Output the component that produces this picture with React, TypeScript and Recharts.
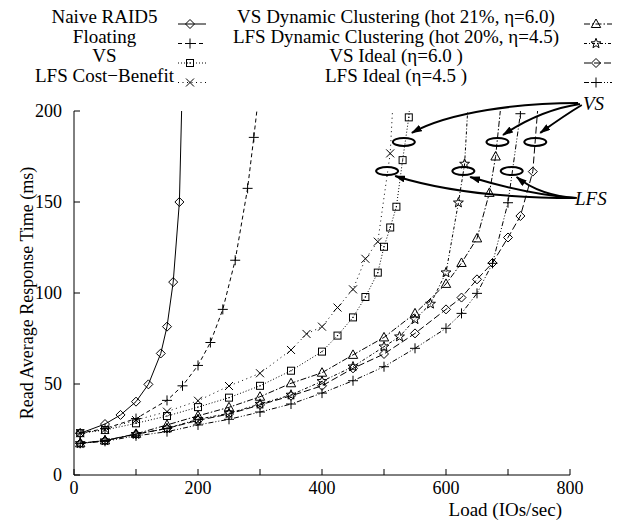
import React from "react";
import { LineChart, Line, XAxis, YAxis, ReferenceDot, Customized } from "recharts";

const FONT = "'Liberation Serif', 'Times New Roman', serif";

// chart frame (px)
const W = 622;
const H = 524;
const PLOT = { left: 74, top: 111, right: 570, bottom: 475 };
const X_MAX = 800;
const Y_MAX = 200;

const xTicks = [0, 100, 200, 300, 400, 500, 600, 700, 800];
const yTicks = [0, 50, 100, 150, 200];

// series (load in IOs/sec, response time in ms)
const naiveX = [10, 50, 75, 100, 120, 140, 150, 160, 170, 175];
const naiveY = [22.9, 28, 33, 40.3, 49.8, 66.8, 81.5, 106, 150, 220];

const floatingX = [10, 50, 100, 150, 175, 200, 220, 240, 260, 280, 290, 300];
const floatingY = [23, 25.5, 31, 41, 49, 60.2, 72.8, 91, 118, 157.5, 185.5, 215];

const vsX = [10, 50, 100, 150, 200, 250, 300, 350, 400, 425, 450, 470, 490, 500, 510, 520, 530, 540, 550];
const vsY = [23, 24.7, 28.4, 32.4, 37.3, 42.5, 49, 57.3, 67.8, 76.6, 86.6, 97.8, 111.2, 125.4, 136, 147.4, 173, 196.5, 240];

const lfsCbX = [10, 50, 100, 150, 200, 250, 300, 350, 375, 400, 425, 450, 470, 490, 510, 520];
const lfsCbY = [23, 25, 30.2, 34.8, 40.8, 48.9, 55.9, 68.7, 77.5, 81.5, 92, 102, 118.8, 128.2, 176.7, 240];

const vsDynX = [10, 50, 100, 150, 200, 250, 300, 350, 400, 450, 500, 550, 600, 625, 650, 670, 680, 690];
const vsDynY = [17.4, 19, 22.6, 27.5, 32.5, 37.2, 43, 50.4, 56.2, 66, 75.6, 88.8, 105, 116.5, 130, 155, 175, 208];

const lfsDynX = [10, 50, 100, 150, 200, 250, 300, 350, 400, 450, 500, 525, 550, 575, 600, 620, 630, 640];
const lfsDynY = [17.4, 18.9, 22.4, 25.6, 30.6, 33.9, 39, 44, 51.5, 59.5, 70.5, 76, 85.5, 94, 111.2, 149.6, 170.9, 230];

const vsIdealX = [10, 50, 100, 150, 200, 250, 300, 350, 400, 450, 500, 550, 600, 625, 650, 675, 700, 720, 740, 750];
const vsIdealY = [17.4, 18.9, 22.4, 25.6, 30, 33.5, 38.5, 43.5, 49, 58.6, 66.5, 77.8, 91, 97.5, 107.5, 116.5, 130.5, 142.3, 166.7, 210];

const lfsIdealX = [10, 50, 100, 150, 200, 250, 300, 350, 400, 450, 500, 550, 600, 625, 650, 675, 700, 720, 730];
const lfsIdealY = [17.4, 18.5, 21.5, 23.8, 27.5, 30.6, 34.6, 39, 45, 51.8, 59.5, 69.6, 80.6, 88.8, 99.8, 116.3, 149.6, 198.5, 225];

const zip = (xs: number[], ys: number[]) => xs.map((x, i) => ({ x, y: ys[i] }));

type Marker = "diamond" | "plus" | "square" | "cross" | "triangle" | "star";

const SERIES: { name: string; data: { x: number; y: number }[]; dash?: string; marker: Marker }[] = [
  { name: "Naive RAID5", data: zip(naiveX, naiveY), marker: "diamond" },
  { name: "Floating", data: zip(floatingX, floatingY), dash: "4 3", marker: "plus" },
  { name: "VS", data: zip(vsX, vsY), dash: "1 2", marker: "square" },
  { name: "LFS Cost\u2212Benefit", data: zip(lfsCbX, lfsCbY), dash: "1 3.5", marker: "cross" },
  { name: "VS Dynamic Clustering (hot 21%, \u03b7=6.0)", data: zip(vsDynX, vsDynY), dash: "6 2 1.5 2", marker: "triangle" },
  { name: "LFS Dynamic Clustering (hot 20%, \u03b7=4.5)", data: zip(lfsDynX, lfsDynY), dash: "3 2 1 2", marker: "star" },
  { name: "VS Ideal (\u03b7=6.0 )", data: zip(vsIdealX, vsIdealY), dash: "7 3", marker: "diamond" },
  { name: "LFS Ideal (\u03b7=4.5 )", data: zip(lfsIdealX, lfsIdealY), dash: "5 2 1 2 1 2", marker: "plus" },
];

// annotation ellipses (data units)
const vsRings = [532, 683, 744];
const vsRingY = 183;
const lfsRings = [505, 628, 706];
const lfsRingY = 167;

// annotation arrows (data units): start, control(s), end
const vsArrows = [
  [[813, 204.4], [719, 204.4], [606, 199.5], [545, 188]],
  [[816, 203.8], [752, 200.5], [692, 186.8]],
  [[819, 203.3], [792, 197.8], [752, 188]],
];
const lfsArrows = [
  [[808, 152.2], [687, 152.2], [590, 156.6], [518, 164.3]],
  [[808, 152.2], [735, 153.8], [639, 163.7]],
  [[811, 152.2], [752, 153.3], [714, 163.7]],
];

const px = (x: number) => PLOT.left + (x / X_MAX) * (PLOT.right - PLOT.left);
const py = (y: number) => PLOT.bottom - (y / Y_MAX) * (PLOT.bottom - PLOT.top);

function drawMarker(kind: Marker, cx: number, cy: number, key: React.Key) {
  const st = { stroke: "#000", strokeWidth: 1, fill: "none" };
  if (cx == null || cy == null || isNaN(cx) || isNaN(cy)) return <g key={key} />;
  switch (kind) {
    case "diamond":
      return <path key={key} d={`M${cx},${cy - 4.5}L${cx + 4.5},${cy}L${cx},${cy + 4.5}L${cx - 4.5},${cy}Z`} {...st} />;
    case "plus":
      return <path key={key} d={`M${cx - 5},${cy}H${cx + 5}M${cx},${cy - 5}V${cy + 5}`} {...st} />;
    case "square":
      return (
        <g key={key}>
          <rect x={cx - 3.5} y={cy - 3.5} width={7} height={7} {...st} />
          <rect x={cx - 0.6} y={cy - 0.6} width={1.2} height={1.2} fill="#000" />
        </g>
      );
    case "cross":
      return <path key={key} d={`M${cx - 4},${cy - 4}L${cx + 4},${cy + 4}M${cx - 4},${cy + 4}L${cx + 4},${cy - 4}`} {...st} />;
    case "triangle":
      return <path key={key} d={`M${cx},${cy - 5}L${cx + 4.7},${cy + 3.5}L${cx - 4.7},${cy + 3.5}Z`} {...st} />;
    case "star": {
      const pts: string[] = [];
      for (let i = 0; i < 10; i++) {
        const r = i % 2 === 0 ? 5.2 : 2.2;
        const a = -Math.PI / 2 + (i * Math.PI) / 5;
        pts.push(`${cx + r * Math.cos(a)},${cy + r * Math.sin(a)}`);
      }
      return <polygon key={key} points={pts.join(" ")} {...st} />;
    }
  }
}

const Overlay = () => {
  const rowY = (i: number) => 23 + i * 19.5;
  return (
    <g fontFamily={FONT}>
      <defs>
        <marker id="ah" markerWidth={11} markerHeight={7} refX={10} refY={3.5} orient="auto" markerUnits="userSpaceOnUse">
          <path d="M0,0L11,3.5L0,7Z" fill="#000" />
        </marker>
      </defs>
      {SERIES.map((s, i) => {
        const col = i < 4 ? 0 : 1;
        const row = i % 4;
        const tx = col === 0 ? 104.5 : 396;
        const lx0 = col === 0 ? 178 : 584;
        const lx1 = lx0 + 28;
        const mx = lx0 + 12;
        const y = rowY(row);
        return (
          <g key={s.name}>
            <text x={tx} y={y} fontSize={19} textAnchor="middle" fill="#000">
              {s.name}
            </text>
            <line x1={lx0} x2={lx1} y1={y + 1} y2={y + 1} stroke="#000" strokeWidth={1} strokeDasharray={s.dash} />
            {drawMarker(s.marker, mx, y + 1, "m")}
          </g>
        );
      })}
      {[...vsArrows, ...lfsArrows].map((a, i) => {
        const p = a.map(([x, y]) => `${px(x)},${py(y)}`);
        const d = a.length === 4 ? `M${p[0]}C${p[1]} ${p[2]} ${p[3]}` : `M${p[0]}Q${p[1]} ${p[2]}`;
        return <path key={i} d={d} fill="none" stroke="#000" strokeWidth={2} markerEnd="url(#ah)" />;
      })}
      <text x={px(821)} y={py(200.5)} fontSize={19} fontStyle="italic" fill="#000">VS</text>
      <text x={px(808)} y={py(148.4)} fontSize={19} fontStyle="italic" fill="#000">LFS</text>
      <text
        x={27}
        y={293}
        fontSize={18}
        textAnchor="middle"
        dominantBaseline="central"
        transform="rotate(-90 27 293)"
        fill="#000"
      >
        Read Average Response Time (ms)
      </text>
      <text x={562} y={516} fontSize={19} textAnchor="end" fill="#000">
        Load (IOs/sec)
      </text>
    </g>
  );
};

const ring = (p: any) => (
  <ellipse cx={p.cx} cy={p.cy} rx={11} ry={4} fill="none" stroke="#000" strokeWidth={2} />
);

export default function App() {
  const tickStyle = { fontSize: 18, fill: "#000", fontFamily: FONT };
  return (
    <div style={{ position: "absolute", left: 0, top: 0, width: W, height: H, background: "#fff" }}>
      <LineChart
        width={W}
        height={H}
        margin={{ top: PLOT.top, right: W - PLOT.right, bottom: 0, left: 0 }}
      >
        <XAxis
          type="number"
          dataKey="x"
          domain={[0, X_MAX]}
          ticks={xTicks}
          height={H - PLOT.bottom}
          tickSize={-6}
          tickMargin={12}
          tick={tickStyle}
          tickFormatter={(v: number) => (v % 200 === 0 ? String(v) : "")}
          axisLine={{ stroke: "#000" }}
          tickLine={{ stroke: "#000" }}
          allowDataOverflow
        />
        <XAxis
          xAxisId="top"
          orientation="top"
          type="number"
          dataKey="x"
          domain={[0, X_MAX]}
          ticks={xTicks}
          height={0}
          tickSize={-6}
          tickFormatter={() => ""}
          axisLine={{ stroke: "#777", strokeWidth: 1.5 }}
          tickLine={{ stroke: "#000" }}
        />
        <YAxis
          type="number"
          domain={[0, Y_MAX]}
          ticks={yTicks}
          width={PLOT.left}
          tickSize={-6}
          tickMargin={18}
          tick={tickStyle}
          axisLine={{ stroke: "#000" }}
          tickLine={{ stroke: "#000" }}
          allowDataOverflow
        />
        <YAxis
          yAxisId="right"
          orientation="right"
          type="number"
          domain={[0, Y_MAX]}
          ticks={yTicks}
          width={0}
          tickSize={-6}
          tickFormatter={() => ""}
          axisLine={{ stroke: "#000" }}
          tickLine={{ stroke: "#000" }}
        />
        {SERIES.map((s) => (
          <Line
            key={s.name}
            data={s.data}
            dataKey="y"
            type="linear"
            stroke="#000"
            strokeWidth={1}
            strokeDasharray={s.dash}
            dot={(p: any) => drawMarker(s.marker, p.cx, p.cy, p.index)}
            activeDot={false}
            isAnimationActive={false}
          />
        ))}
        {vsRings.map((x) => (
          <ReferenceDot key={`v${x}`} x={x} y={vsRingY} r={4} shape={ring} ifOverflow="visible" />
        ))}
        {lfsRings.map((x) => (
          <ReferenceDot key={`l${x}`} x={x} y={lfsRingY} r={4} shape={ring} ifOverflow="visible" />
        ))}
        <Customized component={<Overlay />} />
      </LineChart>
    </div>
  );
}
